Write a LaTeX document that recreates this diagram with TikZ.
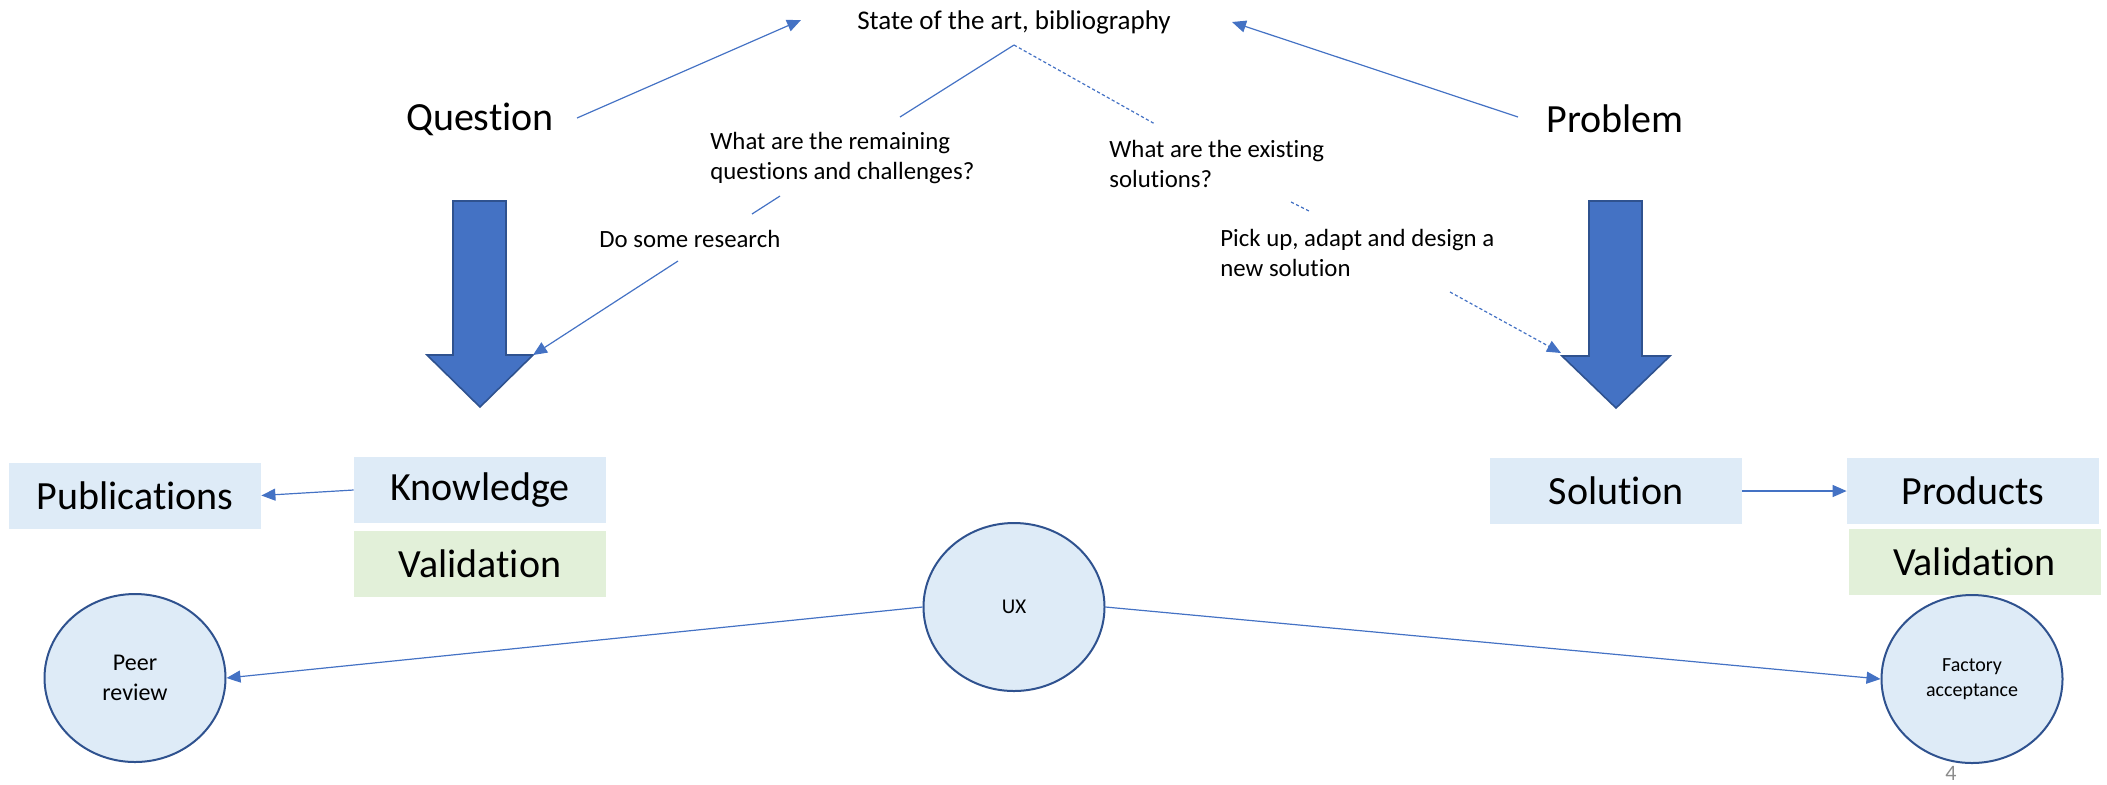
\documentclass[tikz,border=0pt]{standalone}
\usepackage{fontspec}
\setmainfont{Carlito}[Ligatures={NoCommon,NoContextual}, Contextuals=NoAlternate]
\usetikzlibrary{arrows.meta,shapes.geometric}
\definecolor{accent}{HTML}{4472C4}
\definecolor{accentdark}{HTML}{2F528F}
\definecolor{boxblue}{HTML}{DEEBF7}
\definecolor{boxgreen}{HTML}{E2F0D9}
\definecolor{pagenum}{HTML}{8C8C8C}
\newcommand{\brk}{\kern0pt }
\begin{document}
\begin{tikzpicture}[x=0.5pt,y=-0.5pt,
  bigtext/.style={font=\fontsize{20pt}{24pt}\selectfont, inner sep=0pt},
  labelbox/.style={bigtext, fill=boxblue, minimum width=126pt, minimum height=33pt},
  valbox/.style={labelbox, fill=boxgreen},
  note/.style={font=\fontsize{12.4pt}{14.8pt}\selectfont, align=left, inner sep=0pt},
  conn/.style={draw=accent, line width=0.6pt},
  tipped/.style={-{Triangle[length=7pt,width=6pt]}},
  dashconn/.style={conn, dash pattern=on 1.6pt off 1.2pt},
  bubble/.style={ellipse, draw=accentdark, line width=1pt, fill=boxblue,
    minimum width=90.5pt, minimum height=84pt, inner sep=0pt, align=center},
  bigarrow/.style={fill=accent, draw=accentdark, line width=0.8pt}]
\useasboundingbox (0,0) rectangle (2107,784);

% big arrows
\draw[bigarrow] (453,201) -- (506,201) -- (506,355) -- (533,355) -- (480,407) -- (427,355) -- (453,355) -- cycle;
\draw[bigarrow] (1589,201) -- (1642,201) -- (1642,356) -- (1670,356) -- (1616,408) -- (1562,356) -- (1589,356) -- cycle;
\coordinate (lhead) at (533,355);
\coordinate (rhead) at (1561,353);

% texts
\node[font=\fontsize{13.5pt}{16pt}\selectfont, inner sep=0pt] (state) at (1014,22) {State of the art, bibliography};
\node[bigtext] (question) at (480,119) {Question};
\node[bigtext] (problem) at (1615,119) {Problem};
\node[note, anchor=west] (remaining) at (710,158) {What are the remaining\\questions and challenges?};
\node[note, anchor=west] (existing) at (1109,164) {What are the existing\\solutions?};
\node[note, anchor=west] (research) at (599,239) {Do some research};
\node[note, anchor=west] (pickup) at (1220,253) {Pick up, adapt and design a\\new solution};

% connector end points
\coordinate (qs) at (577,118);
\coordinate (qe) at (801,20);
\coordinate (ps) at (1518,117);
\coordinate (pe) at (1232,22);
\coordinate (sb) at (1014,45);
\coordinate (re) at (900,117);
\coordinate (ee) at (1155,124);
\coordinate (r1) at (780,196);
\coordinate (r2) at (752,214);
\coordinate (rs) at (678,261);
\coordinate (e1) at (1291,202);
\coordinate (e2) at (1309,211);
\coordinate (pks) at (1450,292);

\draw[conn, tipped] (qs) -- (qe);
\draw[conn, tipped] (ps) -- (pe);
\draw[conn] (sb) -- (re);
\draw[dashconn] (sb) -- (ee);
\draw[conn] (r1) -- (r2);
\draw[conn, tipped] (rs) -- (lhead);
\draw[dashconn] (e1) -- (e2);
\draw[dashconn, tipped] (pks) -- (rhead);

% boxes
\node[labelbox] (publications) at (135,495.5) {Publicat\brk ions};
\node[labelbox] (knowledge) at (480,490) {Knowledge};
\node[valbox] (validl) at (480,563.5) {Validat\brk ion};
\node[labelbox] (solution) at (1616,491) {Solution};
\node[labelbox] (products) at (1973,491) {Products};
\node[valbox] (validr) at (1974.5,561.5) {Validat\brk ion};

\draw[conn, tipped] (knowledge.west) -- (publications.east);
\draw[conn, tipped] (solution.east) -- (products.west);

% bubbles
\node[bubble, font=\fontsize{12pt}{15pt}\selectfont] (peer) at (135,678) {Peer\\review};
\node[bubble, font=\fontsize{10.5pt}{12.5pt}\selectfont] (ux) at (1014,607) {UX};
\node[bubble, font=\fontsize{10pt}{12.5pt}\selectfont] (factory) at (1972,679) {Factory\\acceptance};

\draw[conn, tipped] (ux.west) -- (peer.east);
\draw[conn, tipped] (ux.east) -- (factory.west);

\node[font=\fontsize{11pt}{13pt}\selectfont, text=pagenum, inner sep=0pt] (page) at (1951,773) {4};
\end{tikzpicture}
\end{document}
